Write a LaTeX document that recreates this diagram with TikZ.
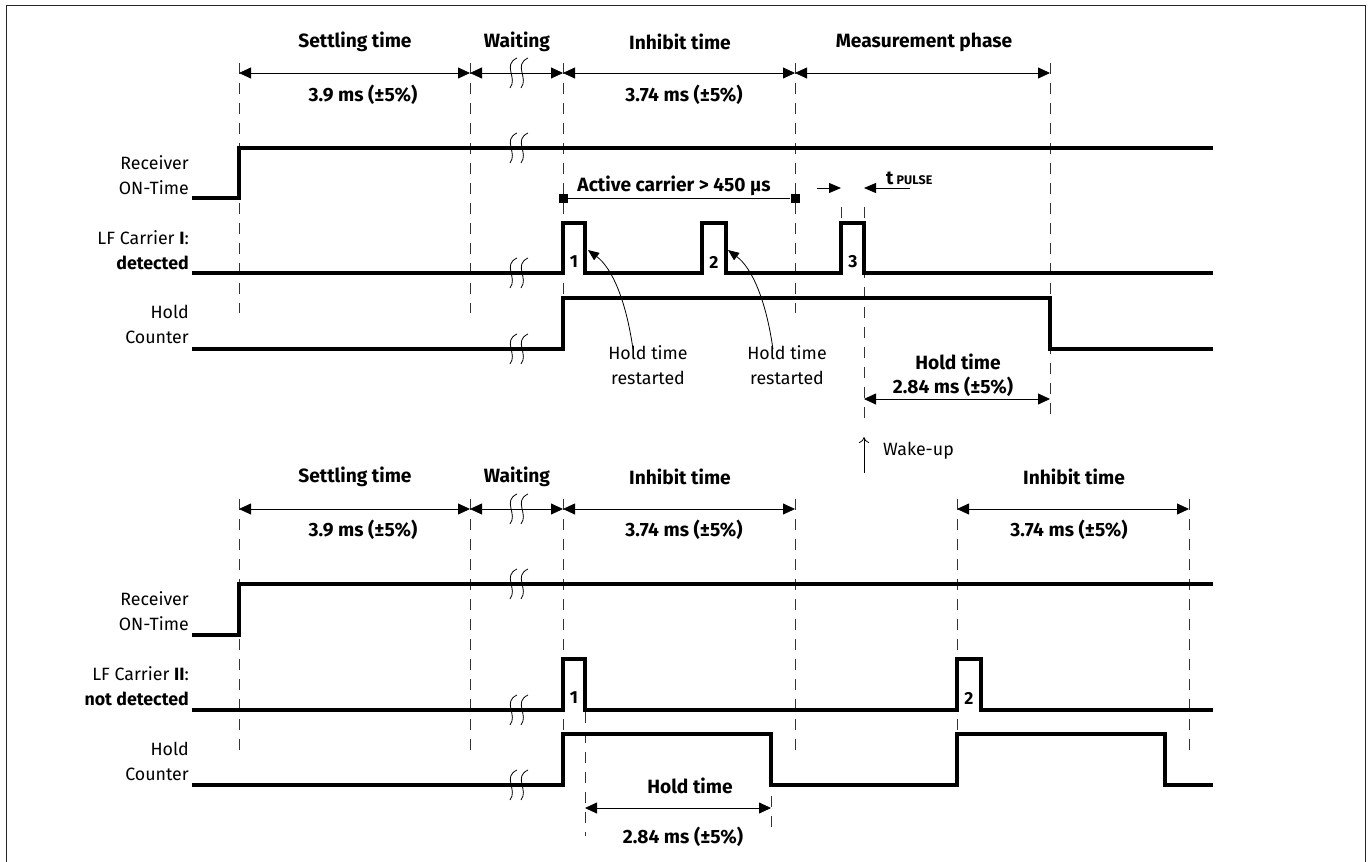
\documentclass[tikz,border=0pt]{standalone}
\usepackage{fontspec}
\setmainfont{Fira Sans}
\usetikzlibrary{arrows.meta}
\begin{document}
\begin{tikzpicture}[x=1pt,y=-1pt,
  sig/.style={line width=3.1pt},
  dimline/.style={line width=0.8pt,{Triangle[length=12pt,width=11pt]}-{Triangle[length=12pt,width=11pt]}},
  guide/.style={line width=0.8pt,dash pattern=on 11pt off 9pt,black!80},
  lbl/.style={font=\fontsize{17.8}{25}\selectfont,align=right,anchor=east,inner sep=0pt},
  ttl/.style={font=\bfseries\fontsize{19.2}{22}\selectfont,inner sep=0pt},
  txt/.style={font=\fontsize{17.8}{25}\selectfont,inner sep=0pt,align=center},
  num/.style={font=\bfseries\fontsize{17.5}{18}\selectfont,inner sep=0pt},
  brk/.style={line width=0.8pt},
  sq/.style={fill=black,minimum size=9pt,inner sep=0pt},
  curv/.style={line width=0.8pt,-{Triangle[length=11pt,width=9pt]}},
]
\useasboundingbox (0,0) rectangle (1369,862);
% frame
\draw[line width=1pt,black!85] (6,870) -- (6,5) -- (1365,5) -- (1365,870);

% ---------- guides, top ----------
\foreach \x in {239,470,563,795} \draw[guide] (\x,63) -- (\x,313);
\draw[guide] (1050,63) -- (1050,418);
\draw[guide] (841,207) -- (841,223);
\draw[guide] (864,207) -- (864,418);
% ---------- guides, bottom ----------
\foreach \x in {239,470,563,795,957,1189} \draw[guide] (\x,499) -- (\x,750);
\draw[guide] (585,712) -- (585,836);
\draw[guide] (771,736) -- (771,836);

% ---------- top dimension arrows ----------
\draw[dimline] (239,73) -- (470,73);
\draw[dimline] (470,73) -- (563,73);
\draw[dimline] (563,73) -- (795,73);
\draw[dimline] (795,73) -- (1050,73);
\node[ttl] (t1) at (355,42) {Settling time};
\node[ttl] (t2) at (517,42) {Waiting};
\node[ttl] (t3) at (680,42) {Inhibit time};
\node[ttl] (t4) at (924,42) {Measurement phase};
\node[ttl] (v1) at (363,95) {3.9 ms (±5\%)};
\node[ttl] (v2) at (684,95) {3.74 ms (±5\%)};

% ---------- top signals ----------
\node[lbl] (l1) at (189,175) {Receiver\\ON-Time};
\node[lbl] (l2) at (189,250) {LF Carrier \textbf{I}:\\\textbf{detected}};
\node[lbl] (l3) at (189,324) {Hold\\Counter};
\draw[sig] (192,198) -- (239,198) -- (239,148) -- (1213,148);
\draw[sig] (192,273) -- (563,273) -- (563,223) -- (585,223) -- (585,273) -- (702,273) -- (702,223) -- (726,223) -- (726,273) -- (841,273) -- (841,223) -- (864,223) -- (864,273) -- (1213,273);
\draw[sig] (192,349) -- (563,349) -- (563,298) -- (1050,298) -- (1050,349) -- (1213,349);
\node[num] (n1) at (574,262) {1};
\node[num] (n2) at (714,262) {2};
\node[num] (n3) at (853,262) {3};

% active carrier
\node[sq] (a1) at (563,198) {};
\node[sq] (a2) at (795,198) {};
\draw[line width=0.8pt] (a1) -- (a2);
\node[ttl] (ac) at (674,186) {Active carrier > 450 µs};

% t pulse
\coordinate (tp1) at (841,188);
\coordinate (tp2) at (864,188);
\coordinate (tp1s) at (817,188);
\coordinate (tp2s) at (910,188);
\draw[line width=0.8pt,-{Triangle[length=12pt,width=10pt]}] (tp1s) -- (tp1);
\draw[line width=0.8pt,-{Triangle[length=12pt,width=10pt]}] (tp2s) -- (tp2);
\node[anchor=base west,inner sep=0pt,font=\bfseries\fontsize{19}{20}\selectfont] (tpl) at (886,184) {t\,{\fontsize{12.5}{13}\selectfont PULSE}};

% hold time restarted
\node[txt] (r1) at (648,365) {Hold time\\restarted};
\node[txt] (r2) at (787,365) {Hold time\\restarted};
\coordinate (p1) at (588,250);
\coordinate (p2) at (728,250);
\draw[curv] ([xshift=-15pt,yshift=-4pt]r1.north) .. controls (626,300) and (612,268) .. (p1);
\draw[curv] ([xshift=-14pt,yshift=-4pt]r2.north) .. controls (766,300) and (752,268) .. (p2);

% hold time top
\node[ttl] (h1) at (958,362) {Hold time};
\node[ttl] (h1v) at (953,387) {2.84 ms (±5\%)};
\draw[dimline] (864,399) -- (1050,399);

% wake-up
\coordinate (wu1) at (864,473);
\coordinate (wu2) at (864,437);
\draw[line width=0.8pt,-{To[length=6pt,width=10pt]}] (wu1) -- (wu2);
\node[txt,anchor=west] (wu) at (883,451) {Wake-up};

% ---------- bottom dimension arrows ----------
\draw[dimline] (239,509) -- (470,509);
\draw[dimline] (470,509) -- (563,509);
\draw[dimline] (563,509) -- (795,509);
\draw[dimline] (957,509) -- (1189,509);
\node[ttl] (b1) at (355,477) {Settling time};
\node[ttl] (b2) at (517,477) {Waiting};
\node[ttl] (b3) at (680,477) {Inhibit time};
\node[ttl] (b4) at (1074,477) {Inhibit time};
\node[ttl] (bv1) at (363,530) {3.9 ms (±5\%)};
\node[ttl] (bv2) at (684,530) {3.74 ms (±5\%)};
\node[ttl] (bv3) at (1069,530) {3.74 ms (±5\%)};

% ---------- bottom signals ----------
\node[lbl] (m1) at (189,611) {Receiver\\ON-Time};
\node[lbl] (m2) at (189,686) {LF Carrier \textbf{II}:\\\textbf{not detected}};
\node[lbl] (m3) at (189,761) {Hold\\Counter};
\draw[sig] (192,635) -- (239,635) -- (239,584) -- (1213,584);
\draw[sig] (192,710) -- (563,710) -- (563,659) -- (585,659) -- (585,710) -- (957,710) -- (957,659) -- (981,659) -- (981,710) -- (1213,710);
\draw[sig] (192,785) -- (563,785) -- (563,734) -- (771,734) -- (771,785) -- (957,785) -- (957,734) -- (1165,734) -- (1165,785) -- (1213,785);
\node[num] (k1) at (574,698) {1};
\node[num] (k2) at (969,698) {2};

% hold time bottom
\node[ttl] (h2) at (690,786) {Hold time};
\draw[dimline] (585,808) -- (771,808);
\node[ttl] (h2v) at (683,837) {2.84 ms (±5\%)};

% ---------- break marks ----------
\foreach \y in {73,148,273,349,509,584,710,785} {
  \foreach \cx in {511,522} {
    \draw[brk] (\cx+6,\y-15) .. controls (\cx-9,\y-8) and (\cx+7,\y+5) .. (\cx-1,\y+15);
  }
}
\end{tikzpicture}
\end{document}
